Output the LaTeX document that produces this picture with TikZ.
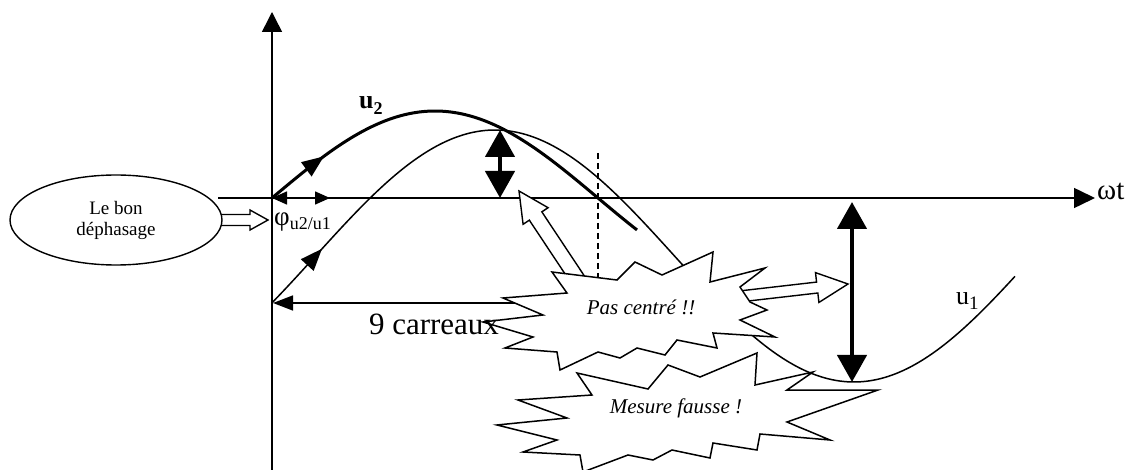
\documentclass[tikz,border=0pt]{standalone}
\usepackage{fontspec}
\setmainfont{Liberation Serif}
\usetikzlibrary{arrows.meta,calc,shapes.geometric}
\newcommand\myhollowarrow[5]{%
  \coordinate (ha-b) at ($(#2)!#5!(#1)$);
  \draw[hollow] ($(#1)!#3!90:(#2)$) -- ($(ha-b)!#3!90:(#2)$) -- ($(ha-b)!#4!90:(#2)$) -- (#2)
    -- ($(ha-b)!#4!-90:(#2)$) -- ($(ha-b)!#3!-90:(#2)$) -- ($(#1)!#3!-90:(#2)$) -- cycle;
}
\begin{document}
\begin{tikzpicture}[x=1pt,y=-1pt,
  axis/.style={line width=1.5pt},
  curve/.style={line width=1.5pt},
  thickcurve/.style={line width=3pt},
  hollow/.style={draw, fill=white, line width=1.4pt, line join=miter},
  burst/.style={draw, fill=white, line width=1.5pt, line join=miter},
  bigdbl/.style={line width=4.5pt, {Triangle[length=27pt,width=29pt]}-{Triangle[length=27pt,width=29pt]}},
  lbl/.style={inner sep=0pt},
  bursttext/.style={inner sep=0pt, font=\fontsize{21}{21}\selectfont\itshape},
]
\useasboundingbox (0,0) rectangle (1133,470);

% axes
\coordinate (O) at (272,198);
\coordinate (ytop) at (272,12);
\coordinate (ybot) at (272,470);
\coordinate (xleft) at (218,198);
\coordinate (xright) at (1095,198);
\draw[axis,-{Triangle[length=20pt,width=20pt]}] (ybot) -- (ytop);
\draw[axis,-{Triangle[length=21pt,width=20pt]}] (xleft) -- (xright);
\node[lbl, anchor=base west, font=\fontsize{29}{29}\selectfont] (wt) at (1097,200) {ωt};

% ellipse and its arrow
\coordinate (e-tail) at (215,220);
\coordinate (e-tip) at (268,220);
\myhollowarrow{e-tail}{e-tip}{5.5pt}{10pt}{18pt}
\node[ellipse, draw, fill=white, line width=1.4pt, minimum width=212pt, minimum height=90pt,
      align=center, font=\fontsize{19}{21}\selectfont] (bon) at (116,220) {Le bon\\déphasage};

% curves
\draw[thickcurve] plot[domain=272:637, samples=120] (\x,{198-87*sin((\x-272)/326*180)});
\draw[curve] plot[domain=272:1015, samples=200] (\x,{256-126*cos((\x-495)/359*180)});
\coordinate (u2a) at (313,164.4); \coordinate (u2b) at (324,156.3);
\draw[thickcurve, -{Triangle[length=22pt,width=17pt]}] (u2a) -- (u2b);
\coordinate (u1a) at (312,259.8); \coordinate (u1b) at (322,248.8);
\draw[curve, -{Triangle[length=22pt,width=17pt]}] (u1a) -- (u1b);

% phase arrow
\coordinate (phiend) at (330,198);
\draw[line width=1.5pt, {Triangle[length=15pt,width=13pt]}-{Triangle[length=15pt,width=13pt]}] (O) -- (phiend);

% dashed line
\coordinate (d1) at (598,153); \coordinate (d2) at (598,290);
\draw[line width=1.4pt, dash pattern=on 6pt off 4pt] (d1) -- (d2);

% thick double arrows
\coordinate (a1t) at (500,130); \coordinate (a1b) at (500,198);
\draw[bigdbl] (a1t) -- (a1b);
\coordinate (a2t) at (852,202); \coordinate (a2b) at (852,382);
\draw[bigdbl] (a2t) -- (a2b);

% 9 carreaux
\coordinate (c1) at (515,303); \coordinate (c2) at (273,303);
\draw[line width=1.5pt, -{Triangle[length=20pt,width=15pt]}] (c1) -- (c2);

% hollow callout arrows
\coordinate (h1t) at (588,295); \coordinate (h1p) at (519,191);
\myhollowarrow{h1t}{h1p}{7.5pt}{15pt}{30pt}
\coordinate (h2t) at (735,297); \coordinate (h2p) at (848,284);
\myhollowarrow{h2t}{h2p}{5.5pt}{15pt}{31pt}

% bursts
\draw[burst] (552,272) -- (617,280) -- (635,262) -- (662,275) -- (713,252) -- (710,282) -- (765,268)
  -- (740,287) -- (750,302) -- (767,310) -- (740,320) -- (775,337) -- (713,333) -- (717,348)
  -- (677,340) -- (665,355) -- (637,348) -- (620,358) -- (598,352) -- (560,370) -- (557,352)
  -- (505,348) -- (533,337) -- (483,322) -- (543,315) -- (503,298) -- (567,293) -- cycle;
\draw[burst] (577,373) -- (648,389) -- (668,365) -- (700,377) -- (757,353) -- (755,385) -- (813,372)
  -- (787,390) -- (878,390) -- (787,422) -- (830,440) -- (760,434) -- (757,450) -- (713,443)
  -- (710,458) -- (672,450) -- (653,460) -- (628,455) -- (583,472) -- (580,455) -- (523,452)
  -- (557,440) -- (497,425) -- (567,418) -- (518,400) -- (592,395) -- cycle;

% labels
\node[lbl, anchor=base, font=\fontsize{31}{31}\selectfont] (nine) at (434,335) {9 carreaux};
\node[bursttext] (pc) at (641,307) {Pas centré !!};
\node[bursttext] (mf) at (676,408) {Mesure fausse !};
\node[lbl, anchor=base west] (u2) at (359,109) {\fontsize{26}{26}\selectfont\bfseries u\raisebox{-6pt}{\fontsize{18}{18}\selectfont 2}};
\node[lbl, anchor=base west] (u1) at (956,305) {\fontsize{26}{26}\selectfont u\raisebox{-5pt}{\fontsize{19}{19}\selectfont 1}};
\node[lbl, anchor=base west] (phi) at (274,226) {\fontsize{27}{27}\selectfont φ\raisebox{-4pt}{\fontsize{18}{18}\selectfont u2/u1}};
\end{tikzpicture}
\end{document}
